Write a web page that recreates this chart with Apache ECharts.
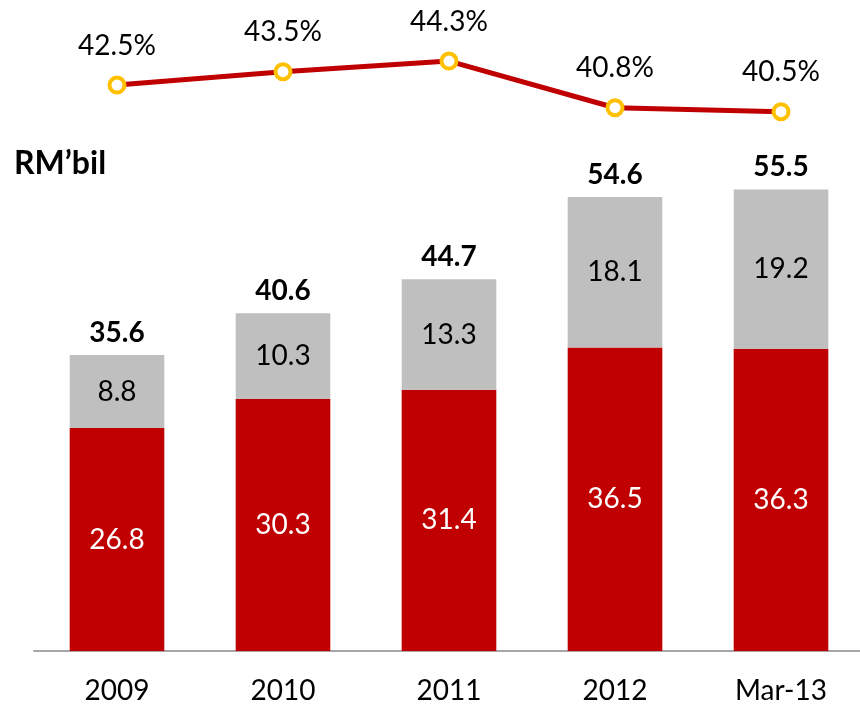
<!DOCTYPE html>
<html><head><meta charset="utf-8">
<script src="https://cdn.jsdelivr.net/npm/echarts@6/dist/echarts.min.js"></script>
<style>html,body{margin:0;padding:0;background:#fff;overflow:hidden;width:860px;height:705px}#c{width:864px;height:705px}</style>
</head><body><div id="c"></div>
<script>
const categories = ['2009','2010','2011','2012','Mar-13'];
const redValues = [26.8, 30.3, 31.4, 36.5, 36.3];
const greyValues = [8.8, 10.3, 13.3, 18.1, 19.2];
const totals = [35.6, 40.6, 44.7, 54.6, 55.5];
const ratioValues = [42.5, 43.5, 44.3, 40.8, 40.5];
const unitLabel = 'RM\u2019bil';

const FONT = 'Lato, "Open Sans", sans-serif';
const chart = echarts.init(document.getElementById('c'), null, {renderer:'canvas'});
chart.setOption({
  animation: false,
  textStyle: {fontFamily: FONT},
  graphic: [{type:'text', left: 14, top: 148, style:{text: unitLabel, font: 'bold 32px ' + FONT, fill:'#000'}}],
  grid: [
    {left: 34, right: 0, top: 152, height: 499},
    {left: 34, right: 0, top: 51.7, height: 66.7}
  ],
  xAxis: [
    {type:'category', gridIndex:0, data: categories, axisTick:{show:false},
     axisLine:{lineStyle:{color:'#A6A6A6', width:2}},
     axisLabel:{color:'#000', fontSize:28, margin:26, fontFamily: FONT}},
    {type:'category', gridIndex:1, data: categories, show:false}
  ],
  yAxis: [
    {type:'value', gridIndex:0, min:0, max:60, show:false, splitLine:{show:false}},
    {type:'value', gridIndex:1, min:40, max:45, show:false, splitLine:{show:false}}
  ],
  series: [
    {type:'bar', stack:'a', data: redValues, barWidth:'57%', itemStyle:{color:'#C00000'},
     label:{show:true, position:'inside', color:'#fff', fontSize:28, fontFamily: FONT}},
    {type:'bar', stack:'a', data: greyValues, barWidth:'57%', itemStyle:{color:'#BFBFBF'},
     label:{show:true, position:'inside', color:'#000', fontSize:28, fontFamily: FONT}},
    {type:'bar', stack:'a', data: totals.map(()=>0), barWidth:'57%', itemStyle:{color:'transparent'},
     label:{show:true, position:'top', distance:8, color:'#000', fontSize:28, fontWeight:'bold', fontFamily: FONT,
       formatter: p => totals[p.dataIndex].toFixed(1)}},
    {type:'line', xAxisIndex:1, yAxisIndex:1, data: ratioValues,
     lineStyle:{color:'#C00000', width:5}, symbol:'circle', symbolSize:15,
     itemStyle:{color:'#fff', borderColor:'#FFC000', borderWidth:4},
     label:{show:true, position:'top', distance:16, color:'#000', fontSize:28, fontFamily: FONT,
       formatter: p => p.value.toFixed(1) + '%'}}
  ]
});
</script></body></html>
